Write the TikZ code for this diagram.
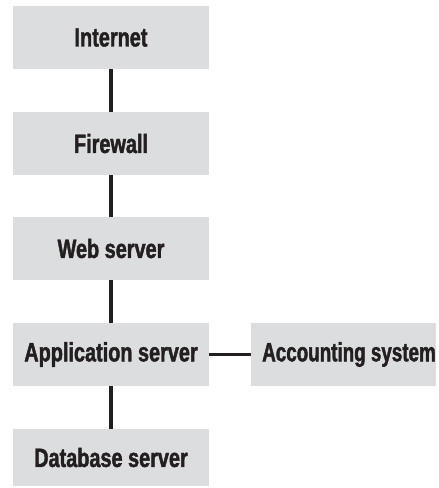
\documentclass[tikz,border=0pt]{standalone}
\usepackage{fontspec}
\setmainfont{Liberation Sans}[FakeStretch=0.75, BoldFeatures={FakeBold=1.6}]
\newfontfamily\accfont{Liberation Sans}[FakeStretch=0.71, BoldFeatures={FakeBold=1.6}]
\definecolor{boxgray}{HTML}{DCDDDF}
\definecolor{ink}{HTML}{231F20}
\begin{document}
\begin{tikzpicture}[x=1pt,y=-1pt,
  box/.style={rectangle, fill=boxgray, draw=none, inner sep=0pt,
    minimum width=196pt, minimum height=63pt, text=ink,
    font=\fontsize{26.5}{30}\selectfont\bfseries},
  link/.style={draw=ink, line width=3.6pt}]
\useasboundingbox (0,0) rectangle (439,488);
\node[box] (inet) at (111,37.5) {Internet};
\node[box] (fw) at (111,143.5) {Firewall};
\node[box] (web) at (111,248.5) {Web server};
\node[box] (app) at (111,354.5) {Application server};
\node[box, minimum height=57pt] (db) at (111,457.5) {Database server};
\node[box, minimum width=185pt, font=\fontsize{26.5}{30}\accfont\bfseries] (acc) at (343.5,354.5) {\hspace*{11pt}Accounting system};
\draw[link] (inet.south) -- (fw.north);
\draw[link] (fw.south) -- (web.north);
\draw[link] (web.south) -- (app.north);
\draw[link] (app.south) -- (db.north);
\draw[link] (app.east) -- (acc.west);
\end{tikzpicture}
\end{document}
